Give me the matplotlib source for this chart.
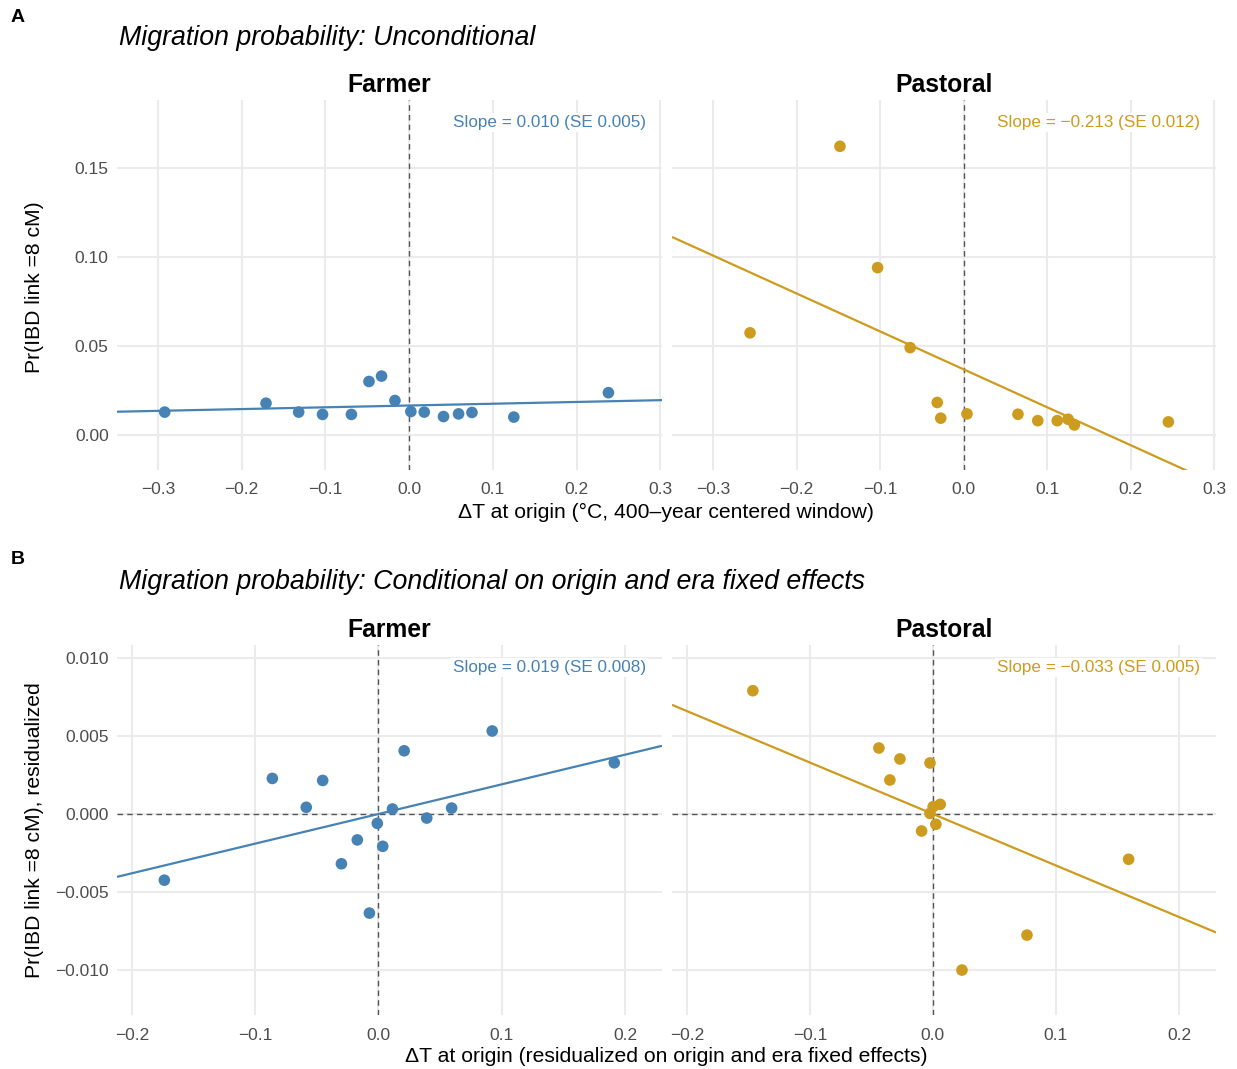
import matplotlib.pyplot as plt
import numpy as np

plt.rcParams["font.family"] = ["Liberation Sans", "DejaVu Sans"]

# Panel A: unconditional migration probability vs. temperature anomaly
farmer_dt = [-0.292, -0.171, -0.132, -0.1035, -0.069, -0.048, -0.033, -0.017,
             0.002, 0.018, 0.041, 0.059, 0.075, 0.125, 0.238]
farmer_p = [0.0128, 0.0178, 0.0128, 0.0115, 0.0115, 0.0300, 0.0330, 0.0193,
            0.0131, 0.0128, 0.0103, 0.0118, 0.0126, 0.0100, 0.0237]
pastoral_dt = [-0.2556, -0.148, -0.103, -0.064, -0.0316, -0.0274, 0.004,
               0.065, 0.0887, 0.112, 0.125, 0.1325, 0.245]
pastoral_p = [0.0573, 0.1620, 0.0939, 0.0490, 0.0182, 0.0094, 0.0118,
              0.0116, 0.0080, 0.0080, 0.0088, 0.0056, 0.0073]

# Panel B: residualized on origin and era fixed effects
farmer_dt_res = [-0.1736, -0.086, -0.0585, -0.0452, -0.030, -0.0171, -0.0073,
                 -0.0009, 0.0035, 0.0114, 0.0209, 0.0392, 0.0594, 0.0923, 0.1913]
farmer_p_res = [-0.00424, 0.00228, 0.00043, 0.00215, -0.00319, -0.00166,
                -0.00635, -0.00060, -0.00207, 0.00032, 0.00405, -0.00026,
                0.00038, 0.00532, 0.00328]
pastoral_dt_res = [-0.1463, -0.0439, -0.0268, -0.0024, -0.035, 0.0059, 0.0002,
                   -0.0024, 0.0024, -0.0092, 0.159, 0.0764, 0.0236]
pastoral_p_res = [0.0079, 0.00423, 0.00353, 0.00327, 0.00218, 0.00062, 0.00047,
                  0.00004, -0.00066, -0.00109, -0.0029, -0.00776, -0.0100]

# OLS fits (slope, SE, intercept)
fit_a = {"Farmer": (0.010, 0.005, 0.0165), "Pastoral": (-0.213, 0.012, 0.0368)}
fit_b = {"Farmer": (0.019, 0.008, 0.0), "Pastoral": (-0.033, 0.005, 0.0)}

COLORS = {"Farmer": "#4682B4", "Pastoral": "#CD9B1D"}
GRID = "#EBEBEB"
TICK = "#4D4D4D"

W, H = 1237, 1069
fig = plt.figure(figsize=(W / 100, H / 100), dpi=100)


def box(x0, y0, x1, y1):
    return [x0 / W, 1 - y1 / H, (x1 - x0) / W, (y1 - y0) / H]


def fmt_num(v):
    return f"{v:.3f}".replace("-", "\u2212")


def panel(ax, xs, ys, fit, color, xlim, ylim, xticks, yticks, yfmt,
          show_y, hline):
    ax.set_xlim(*xlim)
    ax.set_ylim(*ylim)
    ax.set_xticks(xticks)
    ax.set_yticks(yticks)
    ax.set_xticklabels([f"{t:.1f}".replace("-", "\u2212") for t in xticks])
    if show_y:
        ax.set_yticklabels([yfmt.format(t).replace("-", "\u2212") for t in yticks])
    else:
        ax.set_yticklabels([])
    ax.grid(True, color=GRID, linewidth=1.5)
    ax.set_axisbelow(True)
    for s in ax.spines.values():
        s.set_visible(False)
    ax.tick_params(length=0, labelsize=12.5, colors=TICK, pad=6)
    ax.tick_params(axis="x", pad=9)
    ax.axvline(0, color="#555555", linestyle=(0, (4, 3)), linewidth=1.0, zorder=2)
    if hline:
        ax.axhline(0, color="#555555", linestyle=(0, (4, 3)), linewidth=1.0, zorder=2)
    slope, se, icpt = fit
    xx = np.array(xlim)
    ax.plot(xx, icpt + slope * xx, color=color, linewidth=1.6, zorder=3,
            solid_capstyle="butt")
    ax.scatter(xs, ys, s=70, color=color, edgecolors="none", zorder=4)
    ax.text(0.97, 0.94, f"Slope = {fmt_num(slope)} (SE {se:.3f})",
            transform=ax.transAxes, ha="right", va="center", fontsize=12.3,
            color=color, zorder=5,
            bbox=dict(facecolor="white", edgecolor="none", pad=1.5))


rows = [
    dict(top=100, bot=470, fit=fit_a,
         data={"Farmer": (farmer_dt, farmer_p), "Pastoral": (pastoral_dt, pastoral_p)},
         xlim=(-0.349, 0.302), ylim=(-0.0197, 0.188),
         xticks=[-0.3, -0.2, -0.1, 0.0, 0.1, 0.2, 0.3],
         yticks=[0.0, 0.05, 0.10, 0.15], yfmt="{:.2f}", hline=False),
    dict(top=645, bot=1015, fit=fit_b,
         data={"Farmer": (farmer_dt_res, farmer_p_res),
               "Pastoral": (pastoral_dt_res, pastoral_p_res)},
         xlim=(-0.212, 0.230), ylim=(-0.01288, 0.01083),
         xticks=[-0.2, -0.1, 0.0, 0.1, 0.2],
         yticks=[-0.010, -0.005, 0.0, 0.005, 0.010], yfmt="{:.3f}", hline=True),
]

cols = [("Farmer", 117, 662), ("Pastoral", 672, 1216)]
for r in rows:
    for j, (name, x0, x1) in enumerate(cols):
        ax = fig.add_axes(box(x0, r["top"], x1, r["bot"]))
        xs, ys = r["data"][name]
        panel(ax, xs, ys, r["fit"][name], COLORS[name], r["xlim"], r["ylim"],
              r["xticks"], r["yticks"], r["yfmt"], j == 0, r["hline"])
        fig.text((x0 + x1) / 2 / W, 1 - (r["top"] - 15) / H, name,
                 ha="center", va="center", fontsize=17.8, fontweight="bold")


def ftext(x, y, s, **kw):
    fig.text(x / W, 1 - y / H, s, **kw)


ftext(11, 17, "A", fontsize=14, fontweight="bold", ha="left", va="center")
ftext(11, 560, "B", fontsize=14, fontweight="bold", ha="left", va="center")
ftext(119, 38, "Migration probability: Unconditional", fontsize=19.3,
      style="italic", ha="left", va="center")
ftext(119, 582, "Migration probability: Conditional on origin and era fixed effects",
      fontsize=19.3, style="italic", ha="left", va="center")
ftext(666, 512, "\u0394T at origin (\u00b0C, 400\u2013year centered window)",
      fontsize=15.2, ha="center", va="center")
ftext(666, 1056, "\u0394T at origin (residualized on origin and era fixed effects)",
      fontsize=15.2, ha="center", va="center")
ftext(35, 287, "Pr(IBD link =8 cM)", fontsize=15.2, rotation=90,
      ha="center", va="center")
ftext(35, 830, "Pr(IBD link =8 cM), residualized", fontsize=15.2, rotation=90,
      ha="center", va="center")

fig.savefig("out.png", dpi=100, facecolor="white")
